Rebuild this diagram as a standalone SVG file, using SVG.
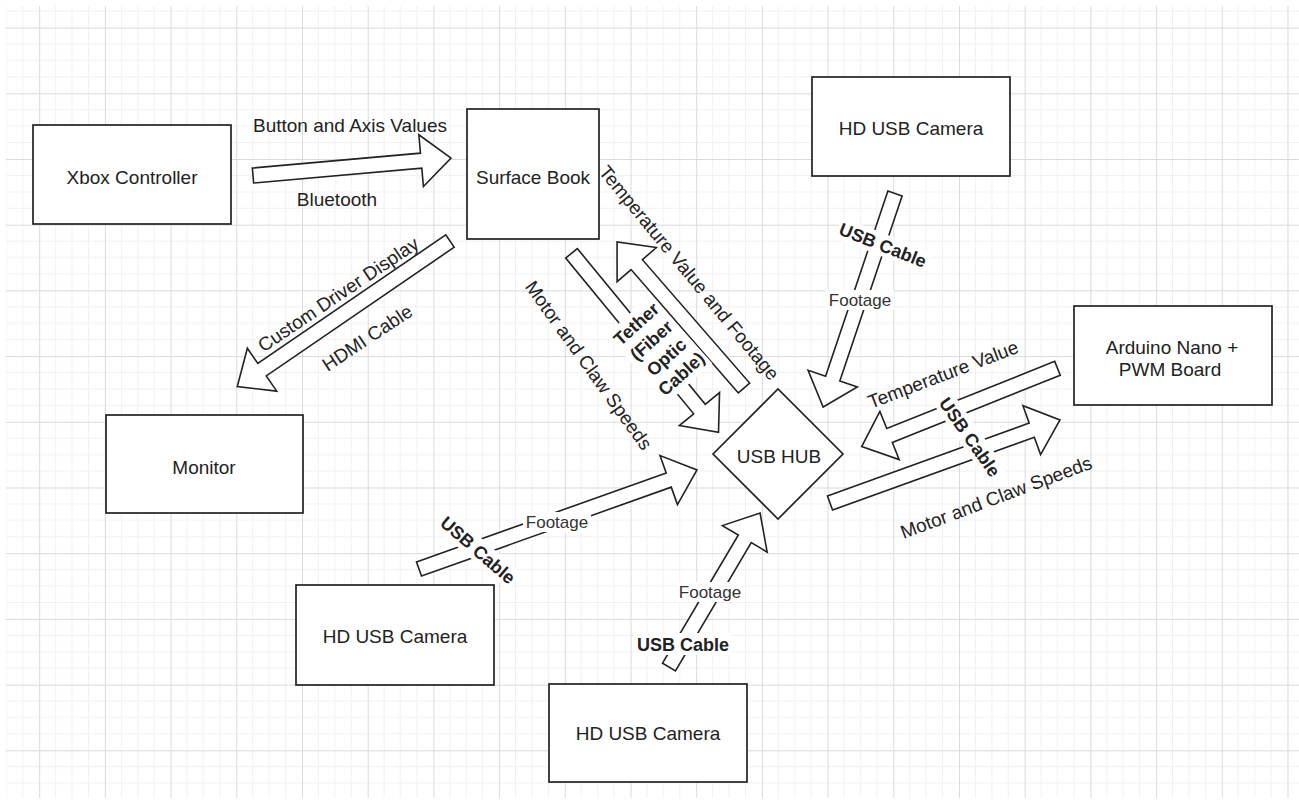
<svg xmlns="http://www.w3.org/2000/svg" width="1299" height="808" viewBox="0 0 1299 808">
<defs>
<pattern id="grid" x="39.2" y="27.6" width="65.7" height="65.7" patternUnits="userSpaceOnUse">
<path d="M16.4 0V65.7M32.85 0V65.7M49.3 0V65.7M0 16.4H65.7M0 32.85H65.7M0 49.3H65.7" stroke="#f1f1f1" stroke-width="1" fill="none"/>
<path d="M0.5 0V65.7M0 0.5H65.7" stroke="#dadada" stroke-width="1" fill="none"/>
</pattern>
<style>
.box{fill:#fff;stroke:#222;stroke-width:1.7}
.arr{fill:#fff;stroke:#222;stroke-width:1.6;stroke-linejoin:miter}
.t{font-family:"Liberation Sans",Arial,sans-serif;font-size:19px;fill:#222;text-anchor:middle}
.b{font-weight:bold;font-size:18px}
.f{font-size:17px;fill:#333}
.bg{fill:#fff}
</style>
</defs>
<rect width="1299" height="808" fill="#fff"/>
<rect x="6" y="6" width="1293" height="792" fill="url(#grid)"/>

<g id="connectors">
<polygon class="arr" transform="translate(253,175.5) rotate(-5.05)" points="0,-7.5 168.8,-7.5 168.8,-26 198.8,0 168.8,26 168.8,7.5 0,7.5"/>
<polygon class="arr" transform="translate(450,241) rotate(145.6)" points="0,-7.5 227.8,-7.5 227.8,-26 257.8,0 227.8,26 227.8,7.5 0,7.5"/>
<polygon class="arr" transform="translate(571.5,253.3) rotate(50.6)" points="0,-7.5 201.6,-7.5 201.6,-26 231.6,0 201.6,26 201.6,7.5 0,7.5"/>
<polygon class="arr" transform="translate(744,388) rotate(-131)" points="0,-7.5 163.5,-7.5 163.5,-26 193.5,0 163.5,26 163.5,7.5 0,7.5"/>
<polygon class="arr" transform="translate(895,193.5) rotate(108.6)" points="0,-7.5 195.3,-7.5 195.3,-26 225.3,0 195.3,26 195.3,7.5 0,7.5"/>
<polygon class="arr" transform="translate(1057.5,368.3) rotate(158.2)" points="0,-7.5 180.9,-7.5 180.9,-26 210.9,0 180.9,26 180.9,7.5 0,7.5"/>
<polygon class="arr" transform="translate(830,503) rotate(-19.85)" points="0,-7.5 214.5,-7.5 214.5,-26 244.5,0 214.5,26 214.5,7.5 0,7.5"/>
<polygon class="arr" transform="translate(419,569) rotate(-19.6)" points="0,-7.5 265.1,-7.5 265.1,-26 295.1,0 265.1,26 265.1,7.5 0,7.5"/>
<polygon class="arr" transform="translate(669,667) rotate(-59.4)" points="0,-7.5 148.9,-7.5 148.9,-26 178.9,0 148.9,26 148.9,7.5 0,7.5"/>

<text class="t" x="350" y="132">Button and Axis Values</text>
<text class="t" x="337" y="206">Bluetooth</text>
<text class="t" transform="translate(338,294) rotate(-34)" y="7">Custom Driver Display</text>
<text class="t" transform="translate(367,337.5) rotate(-33.5)" y="7">HDMI Cable</text>
<text class="t" transform="translate(689.5,272.5) rotate(50.6)" y="7">Temperature Value and Footage</text>
<text class="t" transform="translate(589,365) rotate(54.3)" y="7">Motor and Claw Speeds</text>
<text class="t" transform="translate(943,374) rotate(-20.8)" y="7">Temperature Value</text>
<text class="t" transform="translate(996,497) rotate(-20.5)" y="7">Motor and Claw Speeds</text>

<g transform="translate(659,349) rotate(-42)">
<rect class="bg" x="-30" y="-46" width="60" height="92"/>
<text class="t b" y="-27.6">Tether</text>
<text class="t b" y="-5.2">(Fiber</text>
<text class="t b" y="17.2">Optic</text>
<text class="t b" y="39.6">Cable)</text>
</g>
<g transform="translate(883,245) rotate(21.6)">
<rect class="bg" x="-48" y="-11" width="96" height="22"/>
<text class="t b" y="6.5">USB Cable</text>
</g>
<g transform="translate(860,300)">
<rect class="bg" x="-34" y="-10" width="68" height="20"/>
<text class="t f" y="6">Footage</text>
</g>
<g transform="translate(557,522)">
<rect class="bg" x="-34" y="-10" width="68" height="20"/>
<text class="t f" y="6">Footage</text>
</g>
<g transform="translate(478,550) rotate(41)">
<rect class="bg" x="-48" y="-11" width="96" height="22"/>
<text class="t b" y="6.5">USB Cable</text>
</g>
<g transform="translate(710,592)">
<rect class="bg" x="-34" y="-10" width="68" height="20"/>
<text class="t f" y="6">Footage</text>
</g>
<g transform="translate(683,644)">
<rect class="bg" x="-48" y="-11" width="96" height="22"/>
<text class="t b" y="6.5">USB Cable</text>
</g>
<g transform="translate(970,437) rotate(55)">
<rect class="bg" x="-48" y="-11" width="96" height="22"/>
<text class="t b" y="6.5">USB Cable</text>
</g>
</g>

<g id="xbox">
<rect class="box" x="33" y="125" width="198" height="99"/>
<text class="t" x="132" y="184">Xbox Controller</text>
</g>
<g id="surface">
<rect class="box" x="467" y="109" width="132" height="130"/>
<text class="t" x="533" y="184">Surface Book</text>
</g>
<g id="cam-top">
<rect class="box" x="812" y="77" width="198" height="99"/>
<text class="t" x="911" y="135">HD USB Camera</text>
</g>
<g id="arduino">
<rect class="box" x="1074" y="306" width="198" height="99"/>
<text class="t" x="1172" y="354">Arduino Nano +</text>
<text class="t" x="1170" y="376">PWM Board</text>
</g>
<g id="monitor">
<rect class="box" x="106" y="415" width="197" height="98"/>
<text class="t" x="204" y="474">Monitor</text>
</g>
<g id="hub">
<polygon class="box" points="713,454 778,389 843,454 778,519"/>
<text class="t" x="779" y="463">USB HUB</text>
</g>
<g id="cam-left">
<rect class="box" x="296" y="585" width="198" height="100"/>
<text class="t" x="395" y="643">HD USB Camera</text>
</g>
<g id="cam-bottom">
<rect class="box" x="549" y="684" width="198" height="98"/>
<text class="t" x="648" y="740">HD USB Camera</text>
</g>
</svg>
